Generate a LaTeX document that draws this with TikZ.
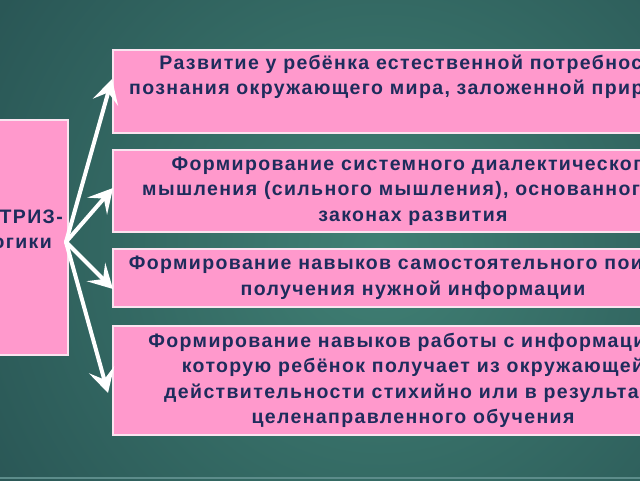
\documentclass[tikz,border=0pt]{standalone}
\usepackage{fontspec}
\setmainfont{Liberation Sans}[LetterSpace=7]
\usetikzlibrary{arrows.meta}
\definecolor{bgin}{RGB}{64,128,116}
\definecolor{bgout}{RGB}{20,46,56}
\definecolor{bgline}{RGB}{92,140,138}
\definecolor{boxpink}{RGB}{255,153,204}
\definecolor{boxline}{RGB}{250,228,240}
\definecolor{navy}{RGB}{30,44,92}
\begin{document}
\begin{tikzpicture}[x=1pt,y=-1pt,
	goalbox/.style={rectangle,fill=boxpink,draw=boxline,line width=1.5pt,inner sep=0pt,
	font=\fontsize{19.5}{25.5}\selectfont\bfseries,text=navy,align=center},
	goaltext/.style={inner sep=0pt,font=\fontsize{19.5}{25}\selectfont\bfseries,text=navy},
	link/.style={draw=white,line width=4pt,line cap=round,
	-{Stealth[length=24pt,width=26pt,inset=10pt]}}]
\useasboundingbox (0,0) rectangle (640,480);
\clip (0,0) rectangle (640,480);
\shade[inner color=bgin,outer color=bgout] (380,250) circle (900);
\draw[bgline,line width=1.5pt] (0,478) -- (640,478);
\node[goalbox,minimum width=160pt,minimum height=235pt] (goal) at (-12,237.5) {};
\node[goaltext,align=right,anchor=east] (goalname) at (63,231)
	{Цели ТРИЗ-\\педагогики\hspace*{11pt}};
\node[goalbox,minimum width=600pt,minimum height=83pt] (b1) at (413,91.5)
	{Развитие у ребёнка естественной потребности\\познания окружающего мира, заложенной природой\\\strut};
\node[goalbox,minimum width=600pt,minimum height=82pt] (b2) at (413,191)
	{Формирование системного диалектического\\мышления (сильного мышления), основанного на\\законах развития};
\node[goalbox,minimum width=600pt,minimum height=58pt] (b3) at (413,278)
	{Формирование навыков самостоятельного поиска и\\получения нужной информации};
\node[goalbox,minimum width=600pt,minimum height=109pt] (b4) at (413,380.5)
	{Формирование навыков работы с информацией,\\которую ребёнок получает из окружающей\\действительности стихийно или в результате\\целенаправленного обучения};
% arrows from the left box
\coordinate (hub) at (66,242);
\coordinate (t1) at (112,79);
\coordinate (t2) at (113,188);
\coordinate (t3) at (113,289);
\coordinate (t4) at (108,393);
\foreach \t in {t1,t2,t3,t4}
	\draw[link] (hub) -- (\t);
\end{tikzpicture}
\end{document}
